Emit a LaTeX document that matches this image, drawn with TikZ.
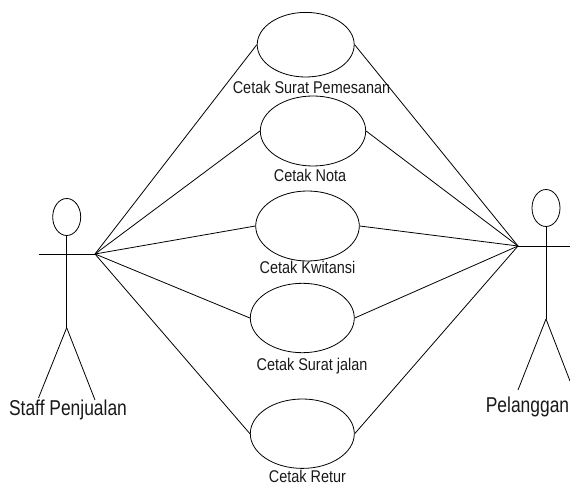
\documentclass[tikz,border=0pt]{standalone}
\usepackage{fontspec}
\usepackage{graphicx}
\setmainfont{Liberation Sans}
\usetikzlibrary{shapes.geometric}
\tikzset{
  uc/.style={draw=black,ellipse,inner sep=0pt,minimum width=#1},
  head/.style={draw=black,ellipse,inner sep=0pt,minimum width=28pt,minimum height=37pt},
  lbl/.style={inner sep=0pt,anchor=base,text=black!90},
  ln/.style={draw=black,line width=0.8pt}
}
\newcommand{\uclabel}[1]{\fontsize{17}{17}\selectfont\scalebox{0.85}[1]{#1}}
\newcommand{\aclabel}[1]{\fontsize{21.5}{21.5}\selectfont\scalebox{0.81}[1]{#1}}
\begin{document}
\begin{tikzpicture}[x=1pt,y=-1pt,line width=0.8pt]
\useasboundingbox (0,0) rectangle (570,486);
% use cases
\node[uc=97pt,minimum height=64.6pt] (u1) at (305.7,44.7) {};
\node[uc=105.4pt,minimum height=70pt] (u2) at (313,131) {};
\node[uc=103.6pt,minimum height=70pt] (u3) at (307.5,226) {};
\node[uc=104pt,minimum height=69.4pt] (u4) at (302.3,318) {};
\node[uc=104pt,minimum height=69.4pt] (u5) at (302.3,433.7) {};
% left actor
\node[head] (h1) at (66.7,217) {};
\coordinate (a1l) at (38.5,254);
\coordinate (a1r) at (95,254);
\coordinate (hip1) at (66.7,327.7);
\coordinate (f1l) at (38.5,398);
\coordinate (f1r) at (95,400);
\draw[ln] (h1.south) -- (hip1);
\draw[ln] (a1l) -- (a1r);
\draw[ln] (hip1) -- (f1l);
\draw[ln] (hip1) -- (f1r);
% right actor
\node[head] (h2) at (546,208) {};
\coordinate (a2l) at (518,246);
\coordinate (a2r) at (570,246);
\coordinate (hip2) at (546,319);
\coordinate (f2l) at (518,390);
\coordinate (f2r) at (570,381);
\draw[ln] (h2.south) -- (hip2);
\draw[ln] (a2l) -- (a2r);
\draw[ln] (hip2) -- (f2l);
\draw[ln] (hip2) -- (f2r);
% connectors
\foreach \u in {u1,u2,u3,u4,u5}{
  \draw[ln] (a1r) -- (\u.west);
  \draw[ln] (\u.east) -- (a2l);
}
% labels
\node[lbl] (t1) at (311.5,94) {\uclabel{Cetak Surat Pemesanan}};
\node[lbl] (t2) at (310,181.5) {\uclabel{Cetak Nota}};
\node[lbl] (t3) at (307.5,273) {\uclabel{Cetak Kwitansi}};
\node[lbl] (t4) at (312,370) {\uclabel{Cetak Surat jalan}};
\node[lbl] (t5) at (307.5,482) {\uclabel{Cetak Retur}};
\node[lbl] (t6) at (68,415) {\aclabel{Staff Penjualan}};
\node[lbl] (t7) at (527.5,412.5) {\aclabel{Pelanggan}};
\end{tikzpicture}
\end{document}
